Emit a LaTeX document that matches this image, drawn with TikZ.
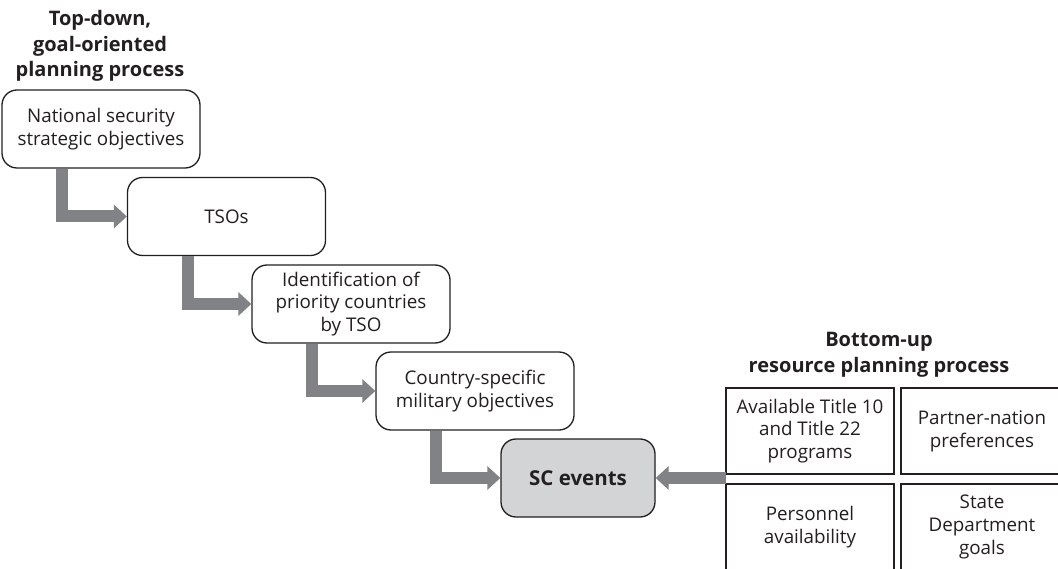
\documentclass[tikz,border=0pt]{standalone}
\usepackage{fontspec}
\setmainfont{Open Sans}
\usetikzlibrary{arrows.meta}
\definecolor{ink}{HTML}{231F20}
\definecolor{shaft}{HTML}{808285}
\definecolor{scfill}{HTML}{D3D4D6}
\begin{document}
\begin{tikzpicture}[x=1pt,y=-1pt,
  every node/.style={text=ink, font=\fontsize{18.8}{22.8}\selectfont, align=center},
  flowbox/.style={draw=ink, line width=1.3pt, rounded corners=15pt, fill=white,
     minimum width=198pt, minimum height=78pt, inner sep=0pt},
  scbox/.style={flowbox, fill=scfill, minimum width=154pt,
     font=\fontsize{20.5}{24}\selectfont\bfseries},
  gridbox/.style={draw=ink, line width=1.3pt, minimum height=86pt, inner sep=0pt},
  titletext/.style={font=\fontsize{20}{25.5}\selectfont\bfseries},
  bigarrow/.style={draw=shaft, line width=12pt, line join=miter, line cap=butt,
     -{Triangle[width=23pt,length=13pt]}}
]
\useasboundingbox (0,0) rectangle (1058,569);
\begin{scope}
\clip (0,0) rectangle (1058,569);

\node[titletext] (ttop) at (100,46) {Top-down,\\goal-oriented\\planning process};
\node[titletext] (tbot) at (879,355) {Bottom-up\\resource planning process};

\node[flowbox] (b1) at (101,129) {National security\\strategic objectives};
\node[flowbox] (b2) at (226.5,216.5) {TSOs};
\node[flowbox] (b3) at (351,304) {Identification of\\priority countries\\by TSO};
\node[flowbox] (b4) at (475,391) {Country-specific\\military objectives};
\node[scbox] (sc) at (578,478) {SC events};

\node[gridbox, minimum width=168pt] (g1) at (810,431) {Available Title 10\\and Title 22\\programs};
\node[gridbox, minimum width=162pt] (g2) at (982,431) {Partner-nation\\preferences};
\node[gridbox, minimum width=168pt] (g3) at (810,527) {Personnel\\availability};
\node[gridbox, minimum width=162pt] (g4) at (982,527) {State\\Department\\goals};

\coordinate (gin) at (726,478);

\draw[bigarrow] ([xshift=-39pt]b1.south) |- (b2.west);
\draw[bigarrow] ([xshift=-39pt]b2.south) |- (b3.west);
\draw[bigarrow] ([xshift=-39pt]b3.south) |- (b4.west);
\draw[bigarrow] ([xshift=-39pt]b4.south) |- (sc.west);
\draw[bigarrow] (gin) -- (sc.east);
\end{scope}
\end{tikzpicture}
\end{document}
